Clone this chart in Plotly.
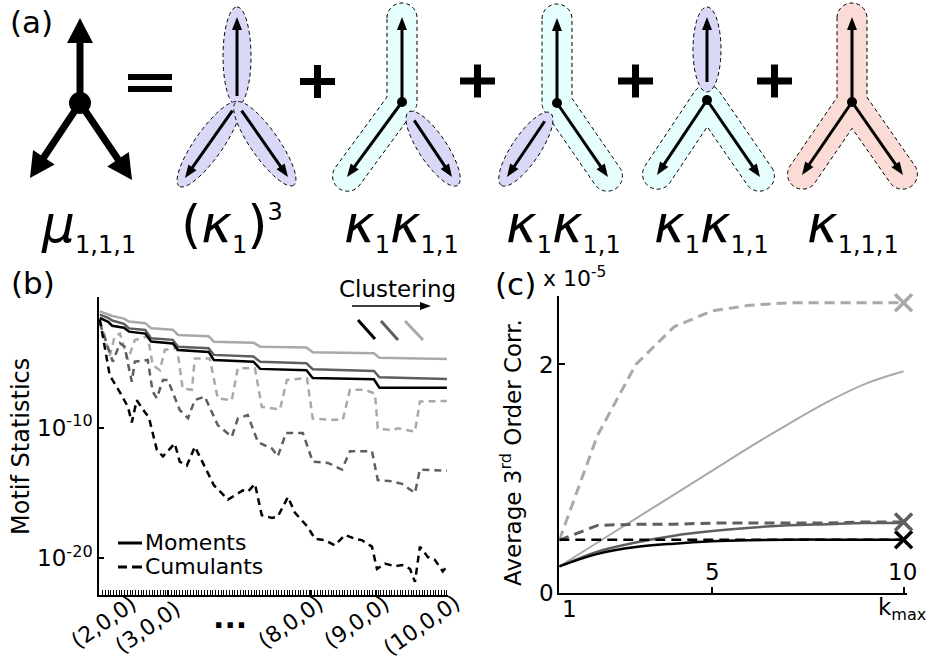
import math
import numpy as np
import plotly.graph_objects as go

W, H = 930, 660
FONT = "DejaVu Sans"
BLACK, GRAY, LIGHT = "#000000", "#5e5e5e", "#a9a9a9"

# ---------------- panel (b) data : motif index vs log10(statistic) ----------------
mom_x = [0, 3, 4.5, 8.8, 10.6, 16.5, 18.6, 26.5, 28.4, 39.5, 41.4, 55.8, 58.2, 75.0, 77.3, 99.5, 101.5, 126]
mom_black = [-1.6, -1.9, -2.2, -2.35, -2.65, -2.8, -3.4, -3.55, -4.05, -4.2, -4.82, -4.95, -5.5, -5.6, -6.2, -6.3, -6.94, -6.94]
mom_gray = [-1.35, -1.6, -1.8, -2.05, -2.4, -2.52, -3.16, -3.28, -3.8, -3.92, -4.43, -4.56, -4.95, -5.07, -5.53, -5.66, -6.14, -6.27]
mom_light = [-1.1, -1.3, -1.45, -1.65, -1.88, -2.0, -2.39, -2.5, -2.9, -3.0, -3.42, -3.5, -3.8, -3.87, -4.23, -4.31, -4.64, -4.74]

cum_black_x = [0, 1.8, 3.6, 7.3, 10.2, 11.6, 13.4, 16.3, 17.8, 20.7, 22.9, 27.2, 29.0, 31.6, 34.5, 39.9, 41.4,
               46.5, 49.0, 51.9, 53.7, 56.3, 58.8, 62.5, 64.6, 68.3, 70.8, 75.5, 78.1, 81.7, 85.3, 89.0, 92.6,
               95.1, 98.8, 100.6, 103.5, 107.1, 109.7, 112.6, 114.4, 116.2, 119.1, 121.6, 124.5, 126]
cum_black = [-1.7, -4.0, -6.0, -7.3, -8.4, -9.6, -7.9, -8.8, -9.2, -11.7, -12.2, -11.2, -12.6, -12.9, -11.45, -13.75, -14.4,
             -15.5, -15.15, -14.8, -14.9, -14.3, -16.7, -16.9, -16.8, -15.3, -16.5, -17.6, -18.5, -18.6, -19.0, -18.2, -18.5,
             -18.6, -19.1, -20.8, -20.4, -20.6, -20.5, -20.8, -21.8, -19.1, -19.9, -20.1, -21.0, -20.6]

cum_gray_x = [0, 4.7, 7.3, 9.0, 10.2, 11.6, 12.7, 17.4, 19.2, 20.7, 22.9, 24.7, 29.0, 32.0, 34.5, 38.1, 42.8, 47.9,
              50.1, 53.7, 57.4, 62.5, 64.6, 67.6, 73.7, 77.3, 82.8, 87.9, 90.8, 98.8, 100.9, 106.0, 109.7, 114.4, 116.2, 126]
cum_gray = [-2.0, -4.95, -3.54, -3.8, -5.07, -6.48, -4.95, -4.82, -7.24, -7.75, -6.35, -6.35, -8.64, -9.28, -7.88, -7.62, -9.8, -10.7,
            -9.3, -9.03, -11.1, -11.6, -12.2, -10.4, -10.4, -12.6, -12.7, -13.2, -11.8, -11.8, -14.0, -14.1, -14.3, -15.0, -13.2, -13.3]

cum_light_x = [0, 1.8, 3.6, 5.4, 7.3, 10.2, 12.7, 17.4, 19.2, 21.8, 23.6, 28.0, 30.1, 33.4, 34.5, 39.9, 42.8, 47.9, 50.1,
               56.3, 58.8, 65.4, 67.9, 75.2, 77.3, 84.2, 88.2, 90.8, 96.2, 99.9, 100.9, 106.0, 108.2, 114.4, 116.2, 126]
cum_light = [-1.8, -3.0, -4.5, -3.0, -2.8, -4.8, -3.3, -3.0, -5.2, -5.6, -4.05, -3.9, -7.0, -7.1, -4.7, -4.7, -7.75, -7.9, -5.45,
             -5.45, -8.4, -8.6, -6.35, -6.2, -9.3, -9.4, -9.4, -7.1, -7.1, -7.4, -10.05, -10.2, -10.05, -10.3, -8.0, -7.95]

motif_tick_idx = [9.1, 24.7, 76.3, 100.6, 126]
motif_tick_txt = ["(2,0,0)", "(3,0,0)", "(8,0,0)", "(9,0,0)", "(10,0,0)"]

# ---------------- panel (c) data ----------------
kmax = [1, 2, 3, 4, 5, 6, 7, 8, 9, 10]
c_light_dash = [0.46, 1.38, 2.0, 2.33, 2.47, 2.52, 2.54, 2.54, 2.54, 2.54]
c_light_solid = [0.23, 0.44, 0.65, 0.86, 1.07, 1.28, 1.48, 1.67, 1.83, 1.94]
c_gray_dash = [0.46, 0.59, 0.60, 0.60, 0.61, 0.61, 0.61, 0.61, 0.62, 0.62]
c_gray_solid = [0.23, 0.36, 0.44, 0.50, 0.54, 0.57, 0.59, 0.60, 0.61, 0.61]
c_black_dash = [0.465, 0.465, 0.465, 0.465, 0.465, 0.465, 0.465, 0.465, 0.465, 0.465]
c_black_solid = [0.23, 0.34, 0.40, 0.43, 0.45, 0.46, 0.465, 0.465, 0.465, 0.465]
x_marks_k = [10, 10, 10]
x_marks_v = [0.465, 0.62, 2.54]
c_xtick_vals = [5, 10]
c_ytick_vals = [0, 2]

fig = go.Figure()

def logv(a):
    return [10 ** v for v in a]

# panel (b) traces
for xs, ys, col in [(cum_light_x, cum_light, LIGHT), (cum_gray_x, cum_gray, GRAY), (cum_black_x, cum_black, BLACK)]:
    fig.add_trace(go.Scatter(x=xs, y=logv(ys), mode="lines", line=dict(color=col, width=2.5, dash="7px,5px"),
                             xaxis="x", yaxis="y", showlegend=False))
for ys, col in [(mom_light, LIGHT), (mom_gray, GRAY), (mom_black, BLACK)]:
    fig.add_trace(go.Scatter(x=mom_x, y=logv(ys), mode="lines", line=dict(color=col, width=2.5),
                             xaxis="x", yaxis="y", showlegend=False))

# panel (c) traces
for ys, col, dash, w, shape in [
    (c_light_dash, LIGHT, "10px,6px", 3, "linear"),
    (c_light_solid, LIGHT, "solid", 2, "spline"),
    (c_gray_dash, GRAY, "10px,6px", 3, "linear"),
    (c_gray_solid, GRAY, "solid", 2.5, "spline"),
    (c_black_dash, BLACK, "10px,6px", 2.5, "linear"),
    (c_black_solid, BLACK, "solid", 2.5, "spline"),
]:
    fig.add_trace(go.Scatter(x=kmax, y=ys, mode="lines", line=dict(color=col, width=w, dash=dash, shape=shape),
                             xaxis="x2", yaxis="y2", showlegend=False, cliponaxis=False))
fig.add_trace(go.Scatter(x=x_marks_k, y=x_marks_v, mode="markers",
                         marker=dict(symbol="x-thin", size=17, line=dict(width=3.5, color=[BLACK, GRAY, LIGHT])),
                         xaxis="x2", yaxis="y2", showlegend=False, cliponaxis=False))

# ---------------- panel (a) illustration ----------------
shapes = []
annos = []

def pp(x, y):
    return x / W, 1 - y / H

def path_of(pts):
    return "M " + " L ".join(f"{x / W:.5f},{1 - y / H:.5f}" for x, y in pts) + " Z"

def poly(pts, fill, outline=False):
    d = dict(type="path", xref="paper", yref="paper", path=path_of(pts), fillcolor=fill, layer="above")
    d["line"] = dict(color="black", width=1, dash="4px,3px") if outline else dict(width=0)
    shapes.append(d)

def seg(a, b, col, w):
    X0, Y0 = pp(*a)
    X1, Y1 = pp(*b)
    shapes.append(dict(type="line", xref="paper", yref="paper", x0=X0, y0=Y0, x1=X1, y1=Y1,
                       line=dict(color=col, width=w), layer="above"))

def unit(a, b):
    dx, dy = b[0] - a[0], b[1] - a[1]
    L = math.hypot(dx, dy)
    return (dx / L, dy / L), L

def ellipse_pts(node, tip, s0, s1, b):
    u, L = unit(node, tip)
    a = (s1 - s0) / 2
    cd = (s0 + s1) / 2
    c = (node[0] + cd * u[0], node[1] + cd * u[1])
    n = (-u[1], u[0])
    return [(c[0] + a * math.cos(t) * u[0] + b * math.sin(t) * n[0],
             c[1] + a * math.cos(t) * u[1] + b * math.sin(t) * n[1]) for t in np.linspace(0, 2 * math.pi, 90)]

def star_pts(node, tips, r, ext):
    arms = []
    for tp in tips:
        u, L = unit(node, tp)
        th = math.atan2(u[1], u[0])
        cc = (node[0] + (L + ext) * u[0], node[1] + (L + ext) * u[1])
        arms.append((th, u, cc))
    arms.sort(key=lambda a: a[0])
    pts = []
    n = len(arms)
    for i in range(n):
        th, u, cc = arms[i]
        for ph in np.linspace(th - math.pi / 2, th + math.pi / 2, 24):
            pts.append((cc[0] + r * math.cos(ph), cc[1] + r * math.sin(ph)))
        th2, u2, cc2 = arms[(i + 1) % n]
        gap = (th2 - th) % (2 * math.pi)
        nl = (math.cos(th + math.pi / 2), math.sin(th + math.pi / 2))
        m = (math.cos(th2 - math.pi / 2), math.sin(th2 - math.pi / 2))
        if gap < math.pi:
            A = np.array([[u[0], -u2[0]], [u[1], -u2[1]]])
            rhs = np.array([r * (m[0] - nl[0]), r * (m[1] - nl[1])])
            t, s = np.linalg.solve(A, rhs)
            pts.append((node[0] + r * nl[0] + t * u[0], node[1] + r * nl[1] + t * u[1]))
        else:
            for ph in np.linspace(th + math.pi / 2, th + math.pi / 2 + (gap - math.pi), 16):
                pts.append((node[0] + r * math.cos(ph), node[1] + r * math.sin(ph)))
    return pts

def arrow(node, tip, s0, stem_w, hl, hw, color="black"):
    u, L = unit(node, tip)
    st = (node[0] + s0 * u[0], node[1] + s0 * u[1])
    base = (tip[0] - hl * u[0], tip[1] - hl * u[1])
    seg(st, (base[0] + 1.5 * u[0], base[1] + 1.5 * u[1]), color, stem_w)
    n = (-u[1], u[0])
    poly([tip, (base[0] + hw * n[0], base[1] + hw * n[1]), (base[0] - hw * n[0], base[1] - hw * n[1])], color)

def dot(c, r):
    shapes.append(dict(type="circle", xref="paper", yref="paper", x0=(c[0] - r) / W, x1=(c[0] + r) / W,
                       y0=1 - (c[1] + r) / H, y1=1 - (c[1] - r) / H, fillcolor="black", line=dict(width=0),
                       layer="above"))

def rect(x0, y0, x1, y1):
    poly([(x0, y0), (x1, y0), (x1, y1), (x0, y1)], "black")

BLUE, CYAN, PINK = "#d9d9f7", "#e6fefe", "#fbdbd5"

# main motif
main_node = (80, 103)
main_tips = [(80, 18), (30, 178), (132, 180)]
for tp in main_tips:
    arrow(main_node, tp, 0, 7, 25, 13)
dot(main_node, 11)

# equals sign and plus signs
rect(128, 74, 172, 80)
rect(128, 86, 172, 92)
for cx, cy in [(317.5, 81.5), (477.5, 81), (635.5, 81), (774.5, 81)]:
    rect(cx - 17.5, cy - 3.5, cx + 17.5, cy + 3.5)
    rect(cx - 3.5, cy - 16.5, cx + 3.5, cy + 16.5)

diagrams = [
    ((237, 104), [(237, 17), (185, 178), (288, 177)], [("e", [0], BLUE, 8), ("e", [1], BLUE, 8), ("e", [2], BLUE, 8)], False),
    ((402, 102), [(402, 17), (347, 177), (452, 177)], [("t", [0, 1], CYAN, 0), ("e", [2], BLUE, 22)], True),
    ((557, 103), [(557, 18), (507, 177), (608, 177)], [("t", [0, 2], CYAN, 0), ("e", [1], BLUE, 22)], True),
    ((707, 100), [(707, 17), (657, 175), (760, 177)], [("t", [1, 2], CYAN, 0), ("e", [0], BLUE, 18)], True),
    ((852, 102), [(852, 17), (802, 175), (903, 175)], [("t", [0, 1, 2], PINK, 0)], True),
]
for node, tips, groups, has_dot in diagrams:
    for kind, idx, col, s0 in groups:
        if kind == "t":
            pts = star_pts(node, [tips[i] for i in idx], 15, -1)
        else:
            u, L = unit(node, tips[idx[0]])
            pts = ellipse_pts(node, tips[idx[0]], s0 - 10, L + 10, 14)
        poly(pts, col, outline=True)
    for kind, idx, col, s0 in groups:
        for i in idx:
            arrow(node, tips[i], s0, 3, 13, 5)
    if has_dot:
        dot(node, 5)

def txt(s, x, y, size, **kw):
    X, Y = pp(x, y)
    d = dict(text=s, x=X, y=Y, xref="paper", yref="paper", showarrow=False,
             font=dict(family=FONT, size=size, color="black"), xanchor="center", yanchor="middle")
    d.update(kw)
    annos.append(d)

def sb(s):
    return f"<sub><span style='font-size:24px'>{s}</span></sub>"

def sp(s):
    return f"<sup><span style='font-size:24px'>{s}</span></sup>"

K = "<i>κ</i>"
EQ = 226
txt("<i>μ</i>" + sb("1,1,1"), 88, EQ, 52)
txt("(" + K + sb("1") + ")" + sp("3"), 232, EQ, 52)
txt(K + sb("1") + K + sb("1,1"), 401, EQ, 52)
txt(K + sb("1") + K + sb("1,1"), 563, EQ, 52)
txt(K + sb("1") + K + sb("1,1"), 711, EQ, 52)
txt(K + sb("1,1,1"), 853, EQ, 52)

# panel labels
txt("(a)", 31, 22, 31)
txt("(b)", 33, 283, 31)
txt("(c)", 515, 284, 31)
txt("x 10<sup>-5</sup>", 541, 277, 22, xanchor="left")

# panel (b) decorations
txt("Motif Statistics", 21, 447, 24, textangle=-90)
txt("Clustering", 397, 289, 23)
seg((352, 306), (422, 306), "black", 1.5)
poly([(431, 306), (420, 302), (420, 310)], "black")
for a, b, col in [((358, 320), (375, 339), BLACK), ((381, 321), (398, 340), GRAY), ((405, 321), (423, 340), LIGHT)]:
    seg(a, b, col, 3)
seg((118, 543), (142, 543), "black", 3)
seg((118, 567), (127, 567), "black", 3)
seg((132, 567), (142, 567), "black", 3)
txt("Moments", 143, 542, 22, xanchor="left")
txt("Cumulants", 143, 566, 22, xanchor="left")
txt("<b>...</b>", 230, 617, 30)
# rotated motif labels under the x axis of panel (b)
for v, lab, (cx, cy) in zip(motif_tick_idx, motif_tick_txt,
                           [(103, 622), (147, 627), (290, 622), (356, 622), (421, 625)]):
    txt(lab, cx, cy, 22, textangle=-35)

# panel (c) decorations
txt("Average 3<sup>rd</sup> Order Corr.", 511, 453, 23, textangle=-90)
txt("1", 569, 609, 23)
txt("k<sub>max</sub>", 928, 609, 23, xanchor="right")
for v, (cx, cy) in zip(c_xtick_vals, [(712, 572), (902, 572)]):
    txt(str(v), cx, cy, 23)
for v, (cx, cy) in zip(c_ytick_vals, [(546, 593), (546, 365)]):
    txt(str(v), cx, cy, 23)

axis_common = dict(showline=True, linecolor="black", linewidth=1.5, showgrid=False, zeroline=False,
                   mirror=False, ticks="inside", tickcolor="black", automargin=False,
                   tickfont=dict(family=FONT, size=23, color="black"))

fig.update_layout(
    width=W, height=H, margin=dict(l=0, r=0, t=0, b=0), template="none",
    paper_bgcolor="white", plot_bgcolor="white", showlegend=False,
    font=dict(family=FONT, size=23, color="black"),
    shapes=shapes, annotations=annos,
    xaxis=dict(domain=[99 / W, 448 / W], range=[-0.3, 126.4], anchor="y",
               tickmode="array", tickvals=motif_tick_idx, showticklabels=False,
               ticklen=5, tickwidth=1,
               minor=dict(ticks="inside", ticklen=5, tickwidth=1, dtick=1, tick0=0, tickcolor="black", showgrid=False),
               **axis_common),
    yaxis=dict(domain=[1 - 595 / H, 1 - 297 / H], type="log", range=[-22.8, 0], anchor="x",
               tickmode="array", tickvals=[1e-20, 1e-10], ticktext=["10<sup>-20</sup>", "10<sup>-10</sup>"],
               ticklen=5, tickwidth=1.5, **axis_common),
    xaxis2=dict(domain=[559.3 / W, 907 / W], range=[1, 10.09], anchor="y2",
                tickmode="array", tickvals=c_xtick_vals, showticklabels=False,
                ticklen=6, tickwidth=1.5, **axis_common),
    yaxis2=dict(domain=[1 - 592.7 / H, 1 - 296 / H], range=[0, 2.6], anchor="x2",
                tickmode="array", tickvals=c_ytick_vals, showticklabels=False,
                ticklen=6, tickwidth=1.5, **axis_common),
)

fig.write_html("out.html", config={"displayModeBar": False},
               post_script="document.body.style.margin='0';document.body.style.overflow='hidden';")
